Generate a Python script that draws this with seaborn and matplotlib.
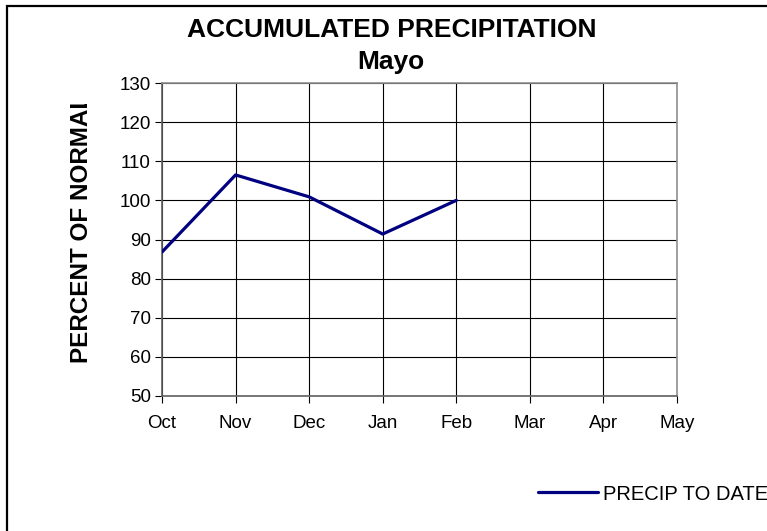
import matplotlib
matplotlib.use("Agg")
import matplotlib.pyplot as plt
import seaborn as sns
import pandas as pd
from matplotlib.patches import Rectangle

months = ["Oct", "Nov", "Dec", "Jan", "Feb", "Mar", "Apr", "May"]
precip_to_date = [86.8, 106.5, 100.9, 91.4, 100.0]
y_ticks = [50, 60, 70, 80, 90, 100, 110, 120, 130]
series_name = "PRECIP TO DATE"

sns.set_theme(style="white")
plt.rcParams["font.family"] = ["Liberation Sans", "DejaVu Sans"]

W, H = 767, 531
fig = plt.figure(figsize=(W / 100, H / 100), dpi=100)
fig.patch.set_facecolor("white")

ax = fig.add_axes([162 / W, 1 - 396 / H, (677 - 162) / W, (396 - 83) / H])
ax.set_facecolor("white")

df = pd.DataFrame({"pos": list(range(len(precip_to_date))), "val": precip_to_date})
sns.lineplot(data=df, x="pos", y="val", ax=ax, color="#000080", linewidth=2.3,
             label=series_name, legend=False, zorder=5)

ax.set_xlim(0, len(months) - 1)
ax.set_ylim(y_ticks[0], y_ticks[-1])
ax.set_xticks(range(len(months)))
ax.set_xticklabels(months)
ax.set_yticks(y_ticks)
ax.grid(True, color="black", linewidth=0.8)
ax.set_axisbelow(True)
ax.set_xlabel("")
ax.set_ylabel("")
ax.tick_params(axis="both", which="both", length=5, width=0.8, color="black",
               labelsize=13.5, labelcolor="black", direction="out",
               left=True, bottom=True)
ax.tick_params(axis="x", pad=9)
ax.tick_params(axis="y", pad=3)
for side in ["top", "right"]:
    ax.spines[side].set_color("#909090")
    ax.spines[side].set_linewidth(1.2)
for side in ["left", "bottom"]:
    ax.spines[side].set_color("#606060")
    ax.spines[side].set_linewidth(1.2)

# titles
fig.text(392 / W, 1 - 36.7 / H, "ACCUMULATED PRECIPITATION", ha="center",
         va="baseline", fontsize=19, fontweight="bold", color="black")
fig.text(391 / W, 1 - 69.3 / H, "Mayo", ha="center", va="baseline",
         fontsize=19, fontweight="bold", color="black")

# y axis title (clipped at top like the original)
yl = fig.text(88 / W, 1 - 363 / H, "PERCENT OF NORMAL", rotation=90,
              ha="left", va="baseline", fontsize=17.5, fontweight="bold",
              color="black", rotation_mode="anchor")
clip = Rectangle((0, 0), 200 / W, 1 - 104 / H, transform=fig.transFigure)
yl.set_clip_path(clip)

# legend
handles, labels = ax.get_legend_handles_labels()
fig.legend(handles, labels, loc="center left",
           bbox_to_anchor=(538 / W, 1 - 494 / H), frameon=False,
           borderpad=0, borderaxespad=0, handlelength=3.0, handletextpad=0.25,
           fontsize=14.5, labelcolor="black")

# chart border
fig.add_artist(Rectangle((7 / W, -0.2), 1.5, 1 - 6 / H + 0.2,
                         transform=fig.transFigure, fill=False,
                         edgecolor="black", linewidth=1.6))

fig.savefig("out.png", dpi=100)
